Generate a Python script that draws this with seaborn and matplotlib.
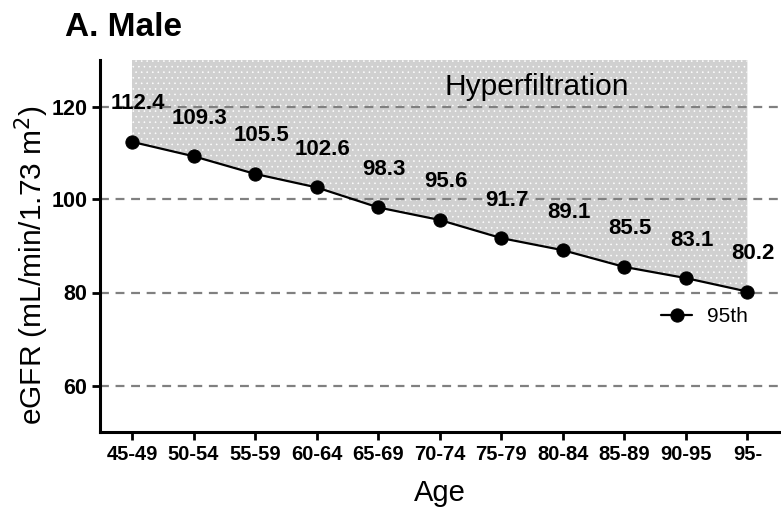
import matplotlib
matplotlib.use("Agg")
import matplotlib.pyplot as plt
import seaborn as sns
import pandas as pd
import numpy as np

age_groups = ["45-49", "50-54", "55-59", "60-64", "65-69", "70-74",
              "75-79", "80-84", "85-89", "90-95", "95-"]
egfr_95th = [112.4, 109.3, 105.5, 102.6, 98.3, 95.6, 91.7, 89.1, 85.5, 83.1, 80.2]
y_ticks = [60, 80, 100, 120]
series_name = "95th"

sns.set_style("ticks")
plt.rcParams["font.family"] = ["Liberation Sans", "DejaVu Sans"]
plt.rcParams["text.color"] = "black"
plt.rcParams["axes.labelcolor"] = "black"
plt.rcParams["xtick.color"] = "black"
plt.rcParams["ytick.color"] = "black"
plt.rcParams["hatch.color"] = "white"
plt.rcParams["hatch.linewidth"] = 0.4

df = pd.DataFrame({"pos": np.arange(len(age_groups)), "eGFR": egfr_95th,
                   "Series": series_name})

fig = plt.figure(figsize=(7.81, 5.11), dpi=100)
ax = fig.add_axes([100/781, 1 - 432/511, 680/781, 372/511])

ymax = 130
ax.fill_between(df["pos"], df["eGFR"], ymax, facecolor="#d0d0d0",
                edgecolor="white", hatch="...", linewidth=0, zorder=1)

sns.lineplot(data=df, x="pos", y="eGFR", hue="Series", palette=["black"],
             marker="o", markersize=9.5, markeredgecolor="black",
             linewidth=1.6, ax=ax, zorder=3)

for x, v in zip(df["pos"], df["eGFR"]):
    ax.annotate(f"{v}", (x, v), xytext=(6, 38), textcoords="offset pixels",
                ha="center", va="center", fontsize=16, fontweight="bold",
                color="black", zorder=4)

ax.text(6.57, 124.3, "Hyperfiltration", fontsize=21.5, ha="center", va="center",
        color="black", zorder=4)

ax.set_xlim(-0.52, 10.53)
ax.set_ylim(50, ymax)
ax.set_xticks(df["pos"])
ax.set_xticklabels(age_groups)
ax.set_yticks(y_ticks)
ax.yaxis.grid(True, linestyle=(0, (4, 3)), color="#808080", linewidth=1.6)
ax.set_axisbelow("line")

ax.tick_params(axis="both", length=6, width=2, color="black", pad=3)
ax.tick_params(axis="x", labelsize=14.5)
ax.tick_params(axis="y", labelsize=15.5)

sns.despine(ax=ax)
for s in ["left", "bottom"]:
    ax.spines[s].set_linewidth(2.2)
    ax.spines[s].set_color("black")

ax.set_xlabel("Age", fontsize=21, labelpad=11)
ax.set_ylabel("eGFR (mL/min/1.73 m$^{2}$)", fontsize=21.5)
ax.yaxis.set_label_coords(-0.072, 0.45)

leg = ax.legend(loc="center right", bbox_to_anchor=(0.965, 0.31), frameon=False,
                fontsize=15, handlelength=1.5, handletextpad=0.7,
                borderaxespad=0)

fig.text(65/781, 1 - 28/511, "A. Male", fontsize=24, fontweight="bold",
         ha="left", va="center")

for lab in ax.get_xticklabels() + ax.get_yticklabels():
    lab.set_fontweight("bold")

fig.savefig("out.png", dpi=100)
